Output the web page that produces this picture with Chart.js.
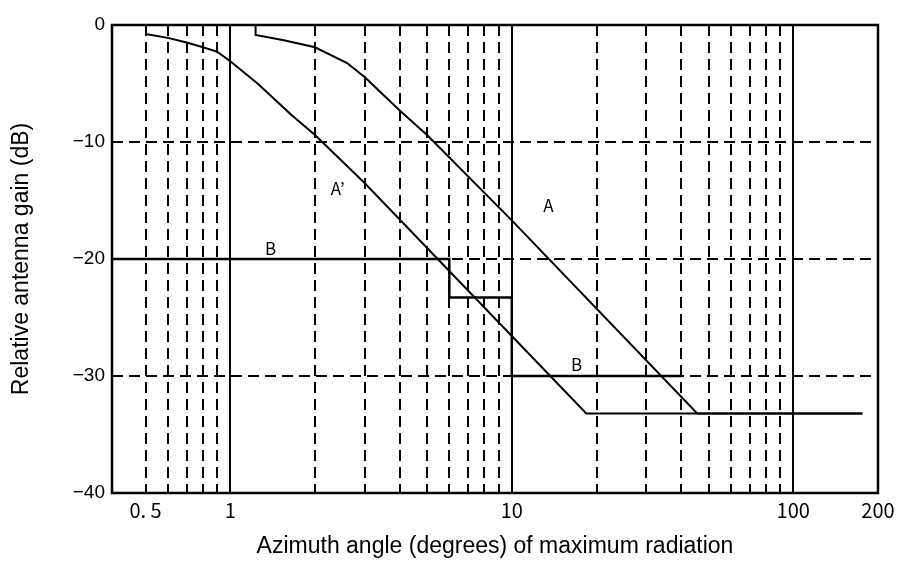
<!DOCTYPE html>
<html>
<head>
<meta charset="utf-8">
<script src="https://cdn.jsdelivr.net/npm/chart.js@4.4.1/dist/chart.umd.min.js"></script>
<style>
  html, body { margin: 0; padding: 0; background: #fff; }
  #wrap { width: 901px; height: 561px; }
</style>
</head>
<body>
<div id="wrap"><canvas id="gainChart"></canvas></div>
<script>
// Azimuth angle (degrees) vs relative antenna gain (dB)
const curveAx  = [1.23, 1.23, 1.55, 2, 2.6, 3, 4, 5, 10, 45.6, 176];
const curveAy  = [0, -0.85, -1.3, -1.9, -3.25, -4.45, -7.3, -9.4, -16.7, -33.2, -33.2];
const curveA2x = [0.5, 0.6, 0.7, 0.8, 0.9, 1, 1.25, 1.65, 2, 3, 18.4, 176];
const curveA2y = [-0.77, -1.1, -1.5, -1.9, -2.3, -3.1, -5.0, -7.7, -9.4, -13.5, -33.2, -33.2];
const curveBx  = [0.38, 6, 6, 10, 10, 40];
const curveBy  = [-20, -20, -23.3, -23.3, -30, -30];

// curve names written next to the lines
const curveNames = ['A', 'A’', 'B', 'B'];
const nameX = [13.5, 2.41, 1.39, 17];
const nameY = [-15.4, -14.0, -19.1, -29.0];

// axes
const xMin = 0.38, xMax = 200;
const xGridMinor = [0.5, 0.6, 0.7, 0.8, 0.9, 2, 3, 4, 5, 6, 7, 8, 9, 20, 30, 40, 50, 60, 70, 80, 90];
const xGridMajor = [1, 10, 100];
const xTickValues = [0.5, 1, 10, 100, 200];
const xTickText = ['0. 5', '1', '10', '100', '200'];
const yTicks = [0, -10, -20, -30, -40];
const yTickText = ['0', '−10', '−20', '−30', '−40'];
const yGridLines = [-10, -20, -30];

const toPoints = (xs, ys) => xs.map((x, i) => ({ x: x, y: ys[i] }));

const lineStyle = {
    borderColor: '#000',
    borderWidth: 2,
    pointRadius: 0,
    showLine: true,
    fill: false,
    tension: 0
};

const gridAndNames = {
    id: 'gridAndNames',
    beforeDatasetsDraw(chart) {
        const { ctx, chartArea: a, scales: { x, y } } = chart;
        const seg = (x1, y1, x2, y2) => {
            ctx.beginPath();
            ctx.moveTo(x1, y1);
            ctx.lineTo(x2, y2);
            ctx.stroke();
        };
        ctx.save();
        ctx.strokeStyle = '#000';
        ctx.lineWidth = 2;
        ctx.setLineDash([11, 6]);
        xGridMinor.forEach(v => {
            const px = Math.round(x.getPixelForValue(v));
            seg(px, a.top, px, a.bottom);
        });
        yGridLines.forEach(v => {
            const py = Math.round(y.getPixelForValue(v));
            seg(a.left, py, a.right - 5, py);
        });
        ctx.setLineDash([]);
        xGridMajor.forEach(v => {
            const px = Math.round(x.getPixelForValue(v));
            seg(px, a.top, px, a.bottom);
        });
        ctx.restore();
    },
    afterDatasetsDraw(chart) {
        const { ctx, chartArea: a, scales: { x, y } } = chart;
        ctx.save();
        ctx.strokeStyle = '#000';
        ctx.lineWidth = 2.5;
        ctx.strokeRect(a.left, a.top, a.right - a.left, a.bottom - a.top);

        ctx.fillStyle = '#000';
        ctx.font = '17px "Noto Sans CJK JP"';
        ctx.textAlign = 'center';
        ctx.textBaseline = 'middle';
        curveNames.forEach((t, i) => {
            ctx.fillText(t, x.getPixelForValue(nameX[i]), y.getPixelForValue(nameY[i]));
        });
        ctx.restore();
    }
};

new Chart(document.getElementById('gainChart'), {
    type: 'scatter',
    data: {
        datasets: [
            { label: 'A', data: toPoints(curveAx, curveAy), ...lineStyle },
            { label: 'A’', data: toPoints(curveA2x, curveA2y), ...lineStyle },
            { label: 'B', data: toPoints(curveBx, curveBy), ...lineStyle, borderWidth: 2.5 }
        ]
    },
    options: {
        responsive: true,
        maintainAspectRatio: false,
        animation: false,
        layout: { padding: { top: 25, right: 23, left: 0, bottom: 0 } },
        plugins: {
            legend: { display: false },
            tooltip: { enabled: false }
        },
        scales: {
            x: {
                type: 'logarithmic',
                min: xMin,
                max: xMax,
                grid: { display: false, drawTicks: false },
                border: { display: false },
                afterBuildTicks: s => { s.ticks = xTickValues.map(v => ({ value: v })); },
                afterFit: s => { s.height = 68; },
                ticks: {
                    autoSkip: false,
                    maxRotation: 0,
                    padding: 5,
                    color: '#000',
                    font: { family: '"Noto Sans CJK JP"', size: 20 },
                    callback: v => {
                        const i = xTickValues.indexOf(v);
                        return i >= 0 ? xTickText[i] : '';
                    }
                },
                title: {
                    display: true,
                    text: 'Azimuth angle (degrees) of maximum radiation',
                    color: '#000',
                    font: { family: '"Liberation Sans"', size: 23 },
                    padding: { top: 0, bottom: 1 }
                }
            },
            y: {
                min: -40,
                max: 0,
                grid: { display: false, drawTicks: false },
                border: { display: false },
                afterBuildTicks: s => { s.ticks = yTicks.map(v => ({ value: v })); },
                afterFit: s => { s.width = 112; },
                ticks: {
                    padding: 7,
                    color: '#000',
                    font: { family: '"Liberation Sans"', size: 19 },
                    callback: v => yTickText[yTicks.indexOf(v)]
                },
                title: {
                    display: true,
                    text: 'Relative antenna gain (dB)',
                    color: '#000',
                    font: { family: '"Liberation Sans"', size: 23 },
                    padding: { top: 8, bottom: 0 }
                }
            }
        }
    },
    plugins: [gridAndNames]
});
</script>
</body>
</html>
